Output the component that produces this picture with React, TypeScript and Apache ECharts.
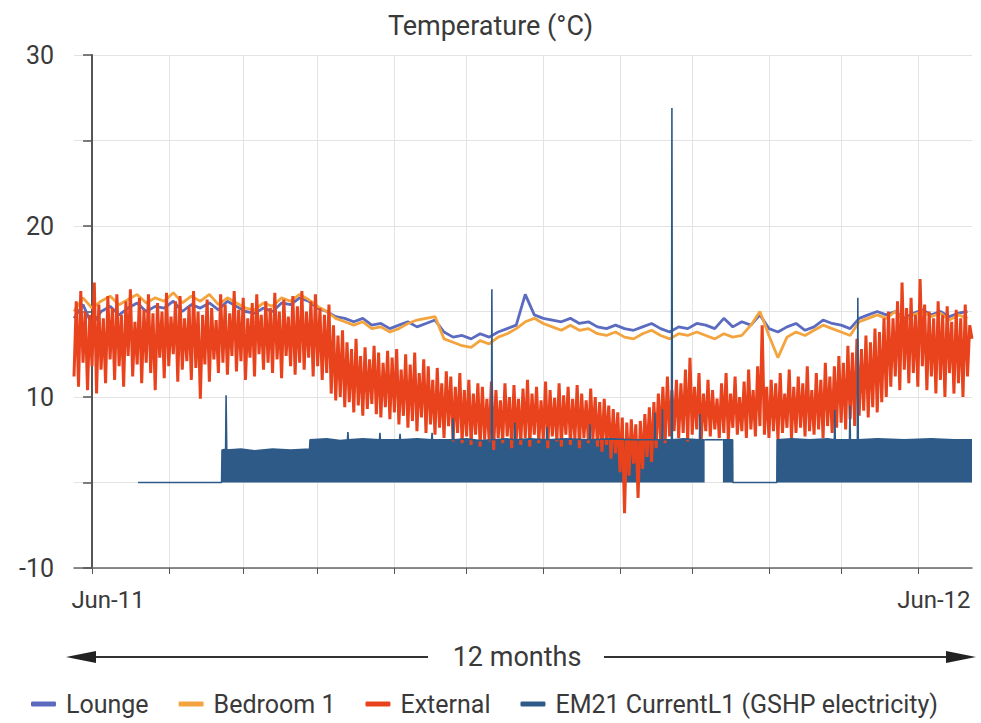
import React, { useEffect, useRef } from "react";
import * as echarts from "echarts";

// ---------- axis definitions ----------
const monthTickDays = [0, 34, 67, 100, 134, 166, 200, 234, 266, 300, 332, 366];
const xLabelDays = [0, 366];
const xLabelTexts = ["Jun-11", "Jun-12"];
const yLabelValues = [-10, 10, 20, 30];

// ---------- External temperature (°C), one reading per day from day -8 (day 0 = 1 Jun 2011) ----------
const extStartDay = -8;
const extStepDays = 1;
const externalTemp = [
  11.2, 15.6, 10.6, 16.2, 12.0, 15.0, 10.4, 14.8, 11.8, 16.7,
  10.2, 15.4, 11.6, 14.6, 10.8, 15.9, 12.2, 15.2, 11.0, 16.0,
  11.8, 14.8, 10.6, 15.6, 12.4, 16.3, 11.2, 14.4, 11.9, 15.8,
  10.8, 15.1, 12.0, 16.0, 11.4, 14.9, 10.4, 15.5, 12.3, 15.0,
  11.1, 16.1, 11.8, 14.7, 12.5, 15.6, 10.9, 15.9, 11.6, 14.6,
  12.1, 15.3, 11.0, 16.2, 11.7, 15.0, 9.8, 14.8, 11.9, 15.7,
  10.9, 15.2, 12.2, 14.5, 11.4, 16.0, 12.0, 15.4, 11.3, 14.9,
  12.4, 16.2, 11.5, 15.1, 12.1, 15.8, 11.0, 14.6, 12.3, 15.5,
  11.2, 16.0, 12.5, 14.8, 11.6, 15.6, 12.0, 15.2, 11.4, 16.1,
  12.2, 15.0, 11.1, 15.7, 12.4, 14.7, 11.8, 15.9, 11.3, 15.3,
  12.0, 16.2, 11.6, 15.0, 12.3, 15.6, 11.2, 16.0, 11.8, 15.2,
  11.0, 14.8, 11.4, 15.4, 10.2, 14.2, 9.6, 13.6, 10.0, 13.9,
  8.8, 13.2, 9.4, 12.8, 8.2, 13.4, 9.0, 12.4, 7.8, 12.9,
  8.6, 12.2, 9.2, 13.0, 8.0, 12.6, 7.6, 12.0, 8.8, 12.7,
  7.4, 12.3, 8.2, 12.8, 6.8, 11.6, 7.8, 12.5, 6.4, 11.9,
  7.2, 12.6, 6.0, 11.4, 7.6, 12.2, 5.8, 11.8, 6.8, 11.0,
  5.6, 11.7, 6.4, 10.8, 5.2, 11.5, 6.6, 11.2, 4.8, 10.6,
  5.8, 11.4, 4.6, 10.4, 5.4, 11.0, 4.4, 10.2, 5.6, 10.8,
  4.2, 10.6, 5.0, 9.8, 4.8, 10.9, 3.8, 10.4, 5.2, 9.6,
  4.6, 10.8, 5.4, 10.0, 4.0, 10.7, 5.0, 9.8, 4.4, 10.5,
  5.2, 11.0, 4.2, 10.2, 5.6, 10.6, 4.6, 9.6, 5.0, 10.9,
  4.0, 10.4, 5.4, 9.9, 4.8, 10.8, 4.2, 10.1, 5.6, 10.6,
  4.4, 9.8, 5.0, 10.7, 4.0, 10.2, 5.2, 9.6, 4.6, 10.5,
  5.0, 10.0, 4.2, 9.4, 3.6, 9.8, 4.4, 9.0, 2.8, 8.6,
  3.4, 8.2, 1.2, 7.6, -3.6, 7.0, 0.8, 7.4, 2.2, 6.8,
  -1.8, 7.2, 1.6, 8.0, 3.0, 8.8, 2.4, 9.4, 4.0, 10.2,
  5.0, 10.6, 4.6, 11.2, 5.4, 10.4, 6.0, 11.0, 5.2, 10.8,
  5.8, 11.6, 4.8, 12.3, 5.6, 10.6, 6.2, 11.4, 5.0, 10.2,
  6.0, 11.0, 5.4, 10.4, 6.2, 9.8, 5.2, 10.8, 5.8, 11.4,
  5.0, 10.2, 6.4, 11.2, 5.6, 10.0, 6.0, 10.9, 5.2, 11.6,
  6.2, 10.4, 5.4, 11.8, 6.6, 14.2, 5.6, 10.6, 5.2, 11.0,
  6.0, 10.8, 5.0, 11.4, 5.8, 10.2, 6.4, 11.6, 5.2, 10.6,
  5.8, 11.2, 6.4, 10.8, 5.4, 11.8, 6.0, 10.4, 5.6, 11.4,
  6.2, 11.0, 5.2, 12.0, 6.6, 11.2, 5.8, 11.8, 6.4, 12.4,
  7.0, 12.0, 6.2, 13.0, 7.4, 12.6, 6.6, 13.4, 7.8, 12.8,
  8.4, 13.6, 7.6, 13.2, 8.8, 14.0, 8.2, 13.8, 9.4, 14.6,
  10.0, 15.0, 10.6, 14.6, 11.2, 15.6, 10.4, 16.7, 11.6, 15.2,
  10.8, 15.8, 11.4, 14.8, 10.6, 16.9, 11.8, 15.4, 10.4, 15.0,
  11.2, 14.6, 10.2, 15.6, 11.0, 14.8, 10.0, 15.3, 11.4, 14.4,
  10.2, 15.1, 10.8, 14.6, 10.0, 15.4, 11.2, 14.2, 13.4,
];

// ---------- Room temperatures (°C), one reading every 4 days from day -8 ----------
const roomStartDay = -8;
const roomStepDays = 4;
const loungeTemp = [
  14.6, 15.4, 14.2, 15.0, 15.3, 14.8, 15.2, 15.5, 15.0, 15.3,
  15.2, 15.6, 15.0, 15.4, 15.2, 15.5, 15.1, 15.6, 15.3, 15.0,
  14.9, 15.2, 15.0, 15.5, 15.4, 15.8, 15.6, 15.2, 15.0, 14.7,
  14.6, 14.4, 14.6, 14.2, 14.3, 14.0, 14.2, 14.4, 14.1, 14.3,
  14.5, 13.8, 13.5, 13.6, 13.4, 13.7, 13.5, 13.8, 14.0, 14.2,
  16.0, 14.8, 14.6, 14.5, 14.4, 14.6, 14.3, 14.4, 14.1, 14.0,
  14.2, 14.0, 13.9, 14.1, 14.3, 14.0, 13.8, 14.1, 14.0, 14.3,
  14.2, 14.0, 14.6, 14.1, 14.4, 14.2, 14.8, 14.0, 13.8, 14.1,
  14.3, 13.9, 14.1, 14.5, 14.3, 14.2, 14.0, 14.6, 14.8, 15.0,
  14.8, 15.0, 14.6, 14.9, 15.1, 14.8, 15.0, 14.7, 14.9, 15.0,
];
const bedroomTemp = [
  15.0, 15.8, 15.2, 15.6, 15.9, 15.4, 15.7, 16.0, 15.5, 15.8,
  15.6, 16.1, 15.5, 15.9, 15.6, 16.0, 15.4, 15.8, 15.5, 15.2,
  15.1, 15.5, 15.3, 15.8, 15.6, 16.0, 15.7, 15.3, 15.0, 14.6,
  14.4, 14.2, 14.4, 14.0, 14.1, 13.8, 14.0, 14.3, 14.5, 14.6,
  14.7, 13.4, 13.2, 13.0, 12.9, 13.3, 13.1, 13.5, 13.7, 14.0,
  14.4, 14.6, 14.3, 14.1, 13.9, 14.2, 13.9, 14.0, 13.7, 13.6,
  13.8, 13.5, 13.4, 13.7, 13.9, 13.6, 13.4, 13.7, 13.6, 13.8,
  13.6, 13.4, 13.7, 13.5, 13.6, 14.2, 15.0, 13.6, 12.3, 13.5,
  13.8, 13.6, 13.9, 14.2, 14.0, 13.8, 13.6, 14.4, 14.6, 14.8,
  14.6, 15.0, 14.4, 14.8, 15.0, 14.7, 14.9, 14.5, 14.8, 14.6,
];

// ---------- GSHP electricity (EM21 CurrentL1): upper envelope of the on/off band ----------
const gshpDays = [
  20.4, 57.4, 57.6, 59.2, 59.4, 59.7, 66, 72, 80, 88, 96.4,
  96.6, 104, 110, 113.2, 113.4, 113.6, 120, 127.4, 127.6, 127.8,
  136.3, 136.5, 136.7, 144, 150.5, 150.7, 150.9, 159.8, 160, 160.2,
  166, 172, 177, 177.2, 177.4, 184, 187.2, 187.4, 187.6, 194,
  201.4, 201.6, 201.8, 210, 220.5, 220.7, 220.9, 230, 240,
  249.3, 249.5, 249.7, 252.6, 252.8, 253, 256.8, 257, 257.2, 262,
  269.2, 269.4, 269.6, 271.5, 275,
  279.6, 283.9, 284, 303.5, 303.6, 310, 318, 326,
  329, 329.2, 329.4, 335.7, 335.9, 336.1, 339.2, 339.4, 339.6,
  348, 360, 372, 382, 390,
];
const gshpCurrent = [
  0, 0, 3.8, 3.9, 10.1, 3.8, 3.9, 3.7, 3.9, 3.8, 3.9,
  5.0, 5.1, 4.9, 5.0, 5.9, 5.0, 5.1, 5.0, 5.8, 5.0,
  5.0, 5.7, 5.0, 5.1, 5.0, 5.8, 5.0, 5.0, 7.5, 5.0,
  5.1, 4.9, 5.0, 16.3, 5.0, 5.1, 5.0, 7.0, 5.0, 5.1,
  5.0, 6.5, 5.0, 5.1, 5.0, 6.8, 5.0, 5.1, 5.0,
  5.0, 8.2, 5.0, 5.0, 8.6, 5.0, 5.0, 26.9, 5.0, 5.1,
  5.0, 8.0, 5.0, 5.0, null,
  5.0, 5.0, 0, 0, 5.0, 5.1, 5.0, 5.1,
  5.0, 8.5, 5.0, 5.0, 9.0, 5.0, 5.0, 15.8, 5.0,
  5.1, 5.0, 5.1, 5.0, 5.0,
];
// period where the current held steady (no on/off cycling)
const gshpHoldDays = [271.5, 279.6];
const gshpHoldCurrent = [5.0, 5.0];

// ---------- helpers ----------
// The value axis is compressed below 10: the span -10..10 takes the height of 10 units.
const display = (v: number) => (v >= 10 ? v : (v + 10) / 2);
const real = (d: number) => (d >= 10 ? d : d * 2 - 10);
const regular = (start: number, step: number, vals: number[]) =>
  vals.map((v, i) => [start + i * step, display(v)]);
const pairs = (days: number[], vals: (number | null)[]) =>
  days.map((d, i) => (vals[i] == null ? [d, "-"] : [d, display(vals[i] as number)]));

const FONT = "Roboto";
const TEXT = "#3a3a3a";
const EM21 = "EM21 CurrentL1 (GSHP electricity)";

export default function App() {
  const ref = useRef<HTMLDivElement>(null);
  useEffect(() => {
    if (!ref.current) return;
    const chart = echarts.init(ref.current, null, { renderer: "svg" });
    const option: any = {
      animation: false,
      backgroundColor: "#ffffff",
      textStyle: { fontFamily: FONT },
      title: {
        text: "Temperature (°C)",
        left: "center",
        top: 7,
        textStyle: { fontFamily: FONT, fontSize: 27, fontWeight: "normal", color: TEXT },
      },
      legend: {
        data: ["Lounge", "Bedroom 1", "External", EM21],
        left: 26,
        top: 686,
        icon: "roundRect",
        itemWidth: 25,
        itemHeight: 5,
        itemGap: 30,
        textStyle: { fontFamily: FONT, fontSize: 25, lineHeight: 26, color: TEXT, padding: [0, 0, 0, 5] },
      },
      grid: { left: 74, right: 9, top: 55, bottom: 155, containLabel: false },
      xAxis: {
        type: "value",
        min: -8,
        max: 390,
        axisLine: { show: true, lineStyle: { color: "#666", width: 1.5 } },
        axisTick: { show: true, customValues: monthTickDays, length: 6, lineStyle: { color: "#555" } },
        axisLabel: {
          customValues: xLabelDays,
          margin: 20,
          padding: [0, 0, 0, 32],
          fontFamily: FONT,
          fontSize: 24,
          color: TEXT,
          formatter: (v: number) => {
            const i = xLabelDays.indexOf(v);
            return i >= 0 ? xLabelTexts[i] : "";
          },
        },
        splitLine: { show: true, lineStyle: { color: "#e3e3e3", width: 1 } },
      },
      yAxis: {
        type: "value",
        min: 0,
        max: 30,
        interval: 5,
        axisLine: { show: true, lineStyle: { color: "#555", width: 2 } },
        axisTick: { show: true, length: 9, lineStyle: { color: "#555", width: 1.5 } },
        axisLabel: {
          margin: 20,
          fontFamily: FONT,
          fontSize: 25,
          color: TEXT,
          formatter: (v: number) => {
            const r = Math.round(real(v) * 10) / 10;
            return yLabelValues.includes(r) ? String(r) : "";
          },
        },
        splitLine: { show: true, lineStyle: { color: "#e3e3e3", width: 1 } },
      },
      series: [
        {
          name: "Lounge",
          type: "line",
          color: "#5b6cc0",
          showSymbol: false,
          symbol: "none",
          lineStyle: { width: 2.8 },
          data: regular(roomStartDay, roomStepDays, loungeTemp),
        },
        {
          name: "Bedroom 1",
          type: "line",
          color: "#f3a43e",
          showSymbol: false,
          symbol: "none",
          lineStyle: { width: 2.8 },
          data: regular(roomStartDay, roomStepDays, bedroomTemp),
        },
        {
          name: "External",
          type: "line",
          color: "#e8431d",
          showSymbol: false,
          symbol: "none",
          lineStyle: { width: 3 },
          data: regular(extStartDay, extStepDays, externalTemp),
        },
        {
          name: EM21,
          type: "line",
          color: "#2e5a88",
          showSymbol: false,
          symbol: "none",
          lineStyle: { width: 1.6 },
          areaStyle: { origin: display(0), opacity: 1, color: "#2e5a88" },
          data: pairs(gshpDays, gshpCurrent),
        },
        {
          name: EM21,
          type: "line",
          color: "#2e5a88",
          showSymbol: false,
          symbol: "none",
          lineStyle: { width: 1.6 },
          data: pairs(gshpHoldDays, gshpHoldCurrent),
        },
      ],
      graphic: [
        { type: "line", shape: { x1: 80, y1: 657, x2: 428, y2: 657 }, style: { stroke: "#333", lineWidth: 2 } },
        { type: "polygon", shape: { points: [[66, 657], [96, 651], [96, 663]] }, style: { fill: "#222" } },
        {
          type: "text",
          x: 517,
          y: 657,
          style: {
            text: "12 months",
            font: `27px ${FONT}`,
            fill: TEXT,
            align: "center",
            verticalAlign: "middle",
          },
        },
        { type: "line", shape: { x1: 604, y1: 657, x2: 960, y2: 657 }, style: { stroke: "#333", lineWidth: 2 } },
        { type: "polygon", shape: { points: [[976, 657], [946, 651], [946, 663]] }, style: { fill: "#222" } },
      ],
    };
    chart.setOption(option);
    return () => chart.dispose();
  }, []);
  return (
    <div
      ref={ref}
      style={{ position: "fixed", left: 0, top: 0, width: 981, height: 723, background: "#fff" }}
    />
  );
}
